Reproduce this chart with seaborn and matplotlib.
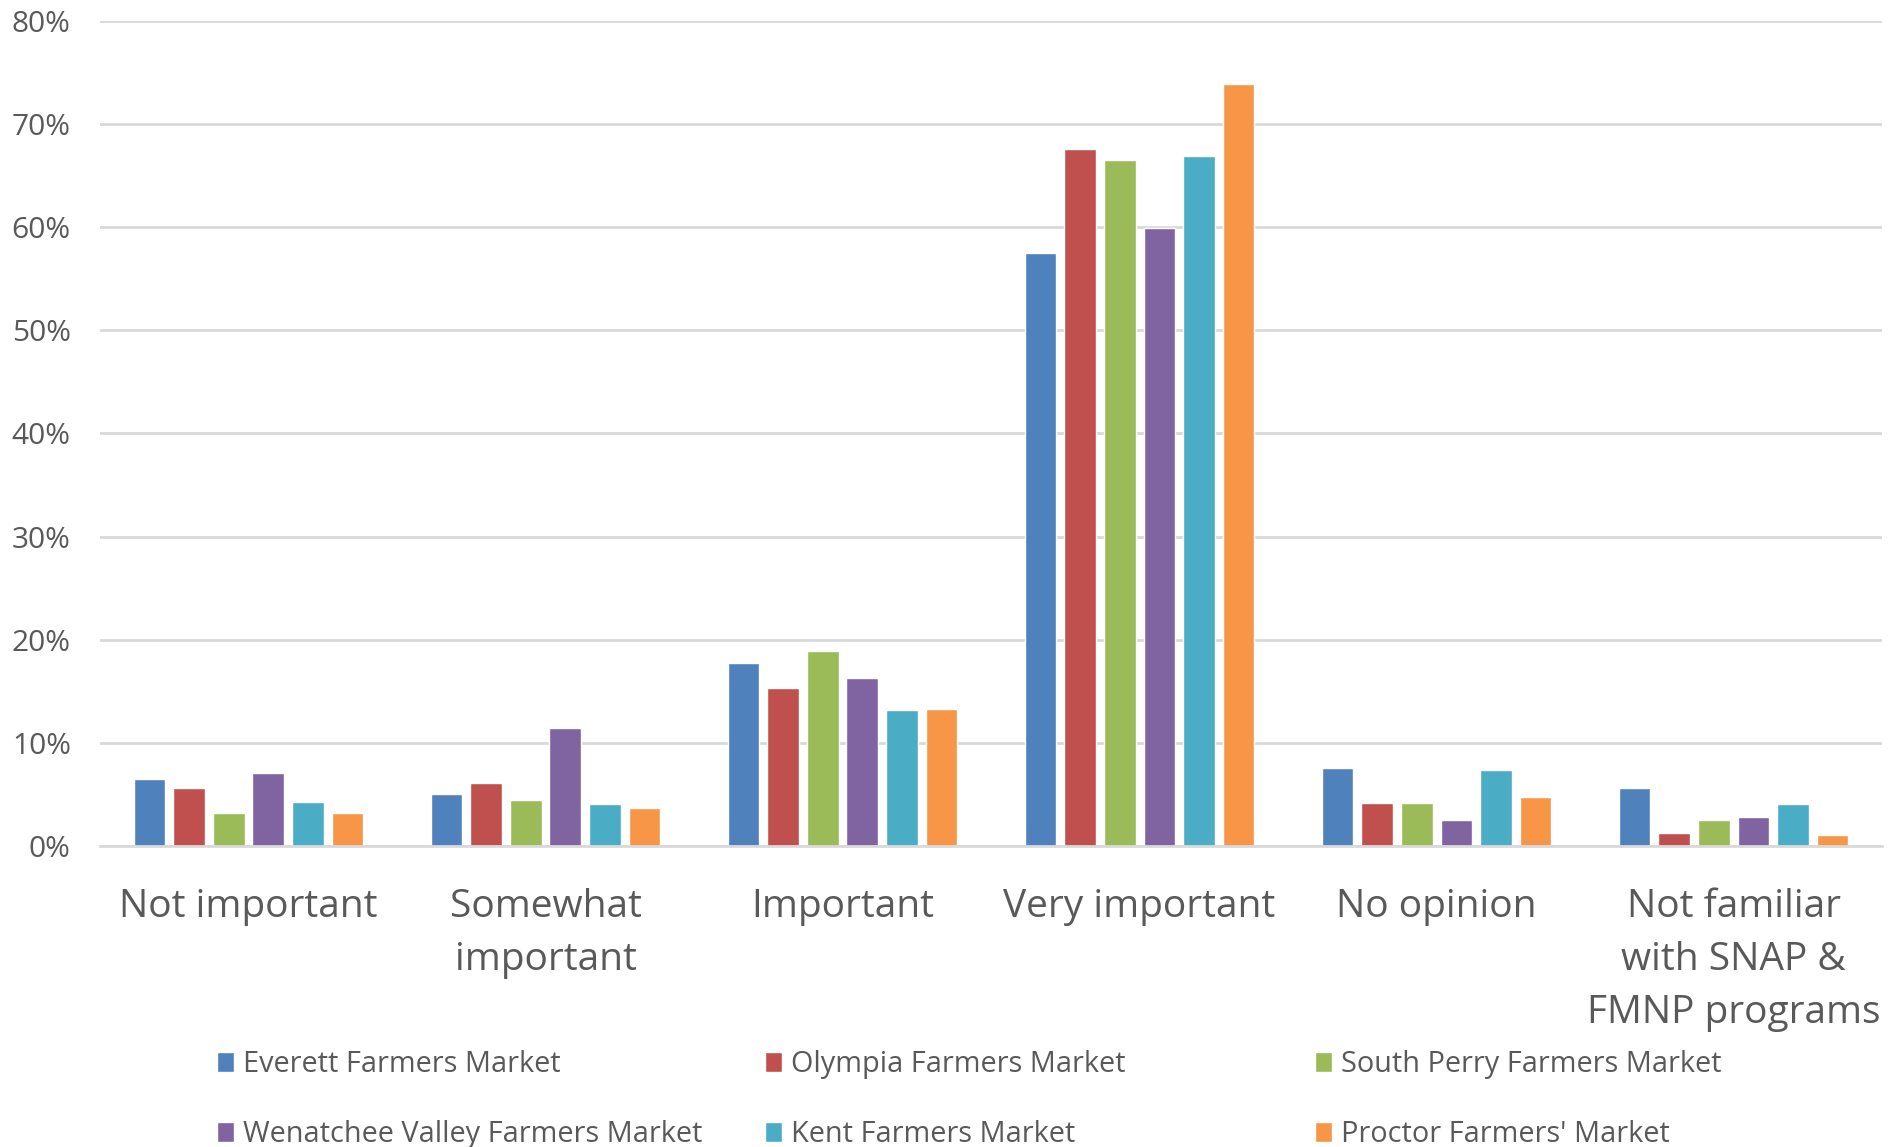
import matplotlib
matplotlib.use("Agg")
import matplotlib.pyplot as plt
import pandas as pd
import seaborn as sns
from matplotlib.ticker import FuncFormatter, MultipleLocator

# Survey responses: importance of SNAP & FMNP acceptance, by market (% of respondents)
categories = [
    "Not important",
    "Somewhat\nimportant",
    "Important",
    "Very important",
    "No opinion",
    "Not familiar\nwith SNAP &\nFMNP programs",
]
markets = [
    "Everett Farmers Market",
    "Olympia Farmers Market",
    "South Perry Farmers Market",
    "Wenatchee Valley Farmers Market",
    "Kent Farmers Market",
    "Proctor Farmers' Market",
]
everett = [6.5, 5.0, 17.7, 57.5, 7.6, 5.6]
olympia = [5.6, 6.1, 15.3, 67.6, 4.2, 1.3]
south_perry = [3.2, 4.5, 18.9, 66.5, 4.2, 2.5]
wenatchee = [7.1, 11.4, 16.3, 59.9, 2.5, 2.8]
kent = [4.3, 4.1, 13.2, 66.9, 7.4, 4.1]
proctor = [3.2, 3.7, 13.3, 73.9, 4.8, 1.1]

colors = ["#4F81BD", "#C0504D", "#9BBB59", "#8064A2", "#4BACC6", "#F79646"]
text_color = "#595959"
grid_color = "#D9D9D9"

series = [everett, olympia, south_perry, wenatchee, kent, proctor]
rows = []
for market, vals in zip(markets, series):
    for cat, v in zip(categories, vals):
        rows.append({"Response": cat, "Market": market, "Percent": v})
df = pd.DataFrame(rows)

sns.set_theme(style="white")
plt.rcParams["font.family"] = ["Open Sans", "DejaVu Sans"]

fig = plt.figure(figsize=(18.98, 11.47), dpi=100)
ax = fig.add_axes([0.0527, 0.2624, 0.9389, 0.7196])

sns.barplot(
    data=df, x="Response", y="Percent", hue="Market",
    order=categories, hue_order=markets, palette=colors, saturation=1,
    width=0.8, gap=0.2, edgecolor="white", linewidth=1.0,
    errorbar=None, ax=ax,
)

ax.set_xlim(-0.5, 5.5)
ax.set_ylim(0, 80)
ax.yaxis.set_major_locator(MultipleLocator(10))
ax.yaxis.set_major_formatter(FuncFormatter(lambda v, _: f"{v:.0f}%"))
ax.grid(axis="y", color=grid_color, linewidth=2)
ax.set_axisbelow(True)
for side in ["top", "right", "left"]:
    ax.spines[side].set_visible(False)
ax.spines["bottom"].set_color(grid_color)
ax.spines["bottom"].set_linewidth(2)
ax.set_xlabel("")
ax.set_ylabel("")
ax.tick_params(axis="y", length=0, pad=21, labelsize=21.5, labelcolor=text_color)
ax.tick_params(axis="x", length=0, pad=30, labelsize=28, labelcolor=text_color)
for lbl in ax.get_xticklabels():
    lbl.set_linespacing(1.52)
    lbl.set_multialignment("center")
    lbl.set_verticalalignment("top")

handles, labels = ax.get_legend_handles_labels()
ax.get_legend().remove()

# Legend laid out as three fixed-width columns of two entries each
col_x = [217 / 1898, 765 / 1898, 1315 / 1898]
for c in range(3):
    idx = [c, c + 3]
    fig.legend(
        [handles[i] for i in idx], [labels[i] for i in idx],
        loc="upper left", bbox_to_anchor=(col_x[c], 1 - 1050 / 1147),
        frameon=False, fontsize=20.8, labelcolor=text_color,
        handlelength=0.58, handleheight=0.68, handletextpad=0.33,
        labelspacing=1.42, borderpad=0, borderaxespad=0,
    )

fig.savefig("out.png", dpi=100)
